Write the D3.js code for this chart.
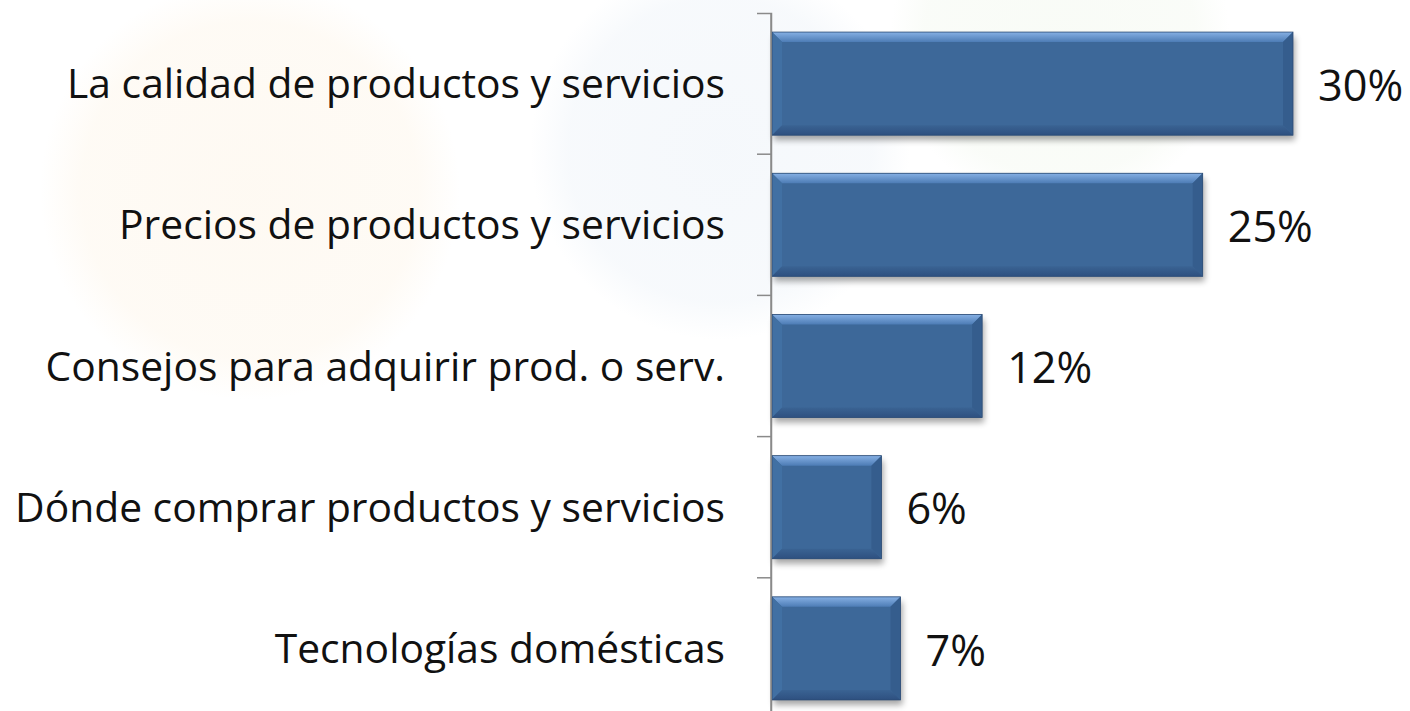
<!DOCTYPE html>
<html><head><meta charset="utf-8">
<script src="https://cdn.jsdelivr.net/npm/d3@7"></script>
<style>body{margin:0;background:#fff;overflow:hidden}</style>
</head><body>
<svg id="c" width="1410" height="711"></svg>
<script>
const categories = [
  "La calidad de productos y servicios",
  "Precios de productos y servicios",
  "Consejos para adquirir prod. o serv.",
  "Dónde comprar productos y servicios",
  "Tecnologías domésticas"
];
const values = [30, 24.8, 12.1, 6.3, 7.4];
const valueLabels = ["30%", "25%", "12%", "6%", "7%"];

const svg = d3.select("#c");
const FONT = "'Open Sans', 'Noto Sans', sans-serif";

// faint background watermark
const defs = svg.append("defs");
const wm = [
  {id:"wmO", cx:250, cy:190, r:210, c:"#fbe6c6", o:0.22},
  {id:"wmB", cx:720, cy:150, r:190, c:"#dce7f3", o:0.28},
  {id:"wmG", cx:1060, cy:40, r:170, c:"#e6f1dd", o:0.25}
];
wm.forEach(w => {
  const g = defs.append("radialGradient").attr("id", w.id);
  g.append("stop").attr("offset", "0%").attr("stop-color", w.c).attr("stop-opacity", w.o);
  g.append("stop").attr("offset", "80%").attr("stop-color", w.c).attr("stop-opacity", w.o * 0.8);
  g.append("stop").attr("offset", "100%").attr("stop-color", w.c).attr("stop-opacity", 0);
});
svg.append("g").selectAll("circle").data(wm).join("circle")
  .attr("cx", d => d.cx).attr("cy", d => d.cy).attr("r", d => d.r)
  .attr("fill", d => `url(#${d.id})`);

// gradients for bevel
const gTop = defs.append("linearGradient").attr("id", "bTop").attr("x1", 0).attr("y1", 0).attr("x2", 0).attr("y2", 1);
gTop.append("stop").attr("offset", "0%").attr("stop-color", "#86b0e4");
gTop.append("stop").attr("offset", "100%").attr("stop-color", "#4d7cb5");
const gBot = defs.append("linearGradient").attr("id", "bBot").attr("x1", 0).attr("y1", 0).attr("x2", 0).attr("y2", 1);
gBot.append("stop").attr("offset", "0%").attr("stop-color", "#3a6393");
gBot.append("stop").attr("offset", "100%").attr("stop-color", "#2e5080");
const filt = defs.append("filter").attr("id", "shadow").attr("x", "-10%").attr("y", "-20%").attr("width", "130%").attr("height", "150%");
filt.append("feGaussianBlur").attr("stdDeviation", 3);

const x = d3.scaleLinear().domain([0, 30]).range([772, 1293]);
const y = d3.scaleBand().domain(categories).range([13, 719]).paddingInner(0.27).paddingOuter(0.135);

const axisX = 771;
const axis = d3.axisLeft(y).tickSizeInner(0).tickSizeOuter(14).tickPadding(46);
const ag = svg.append("g").attr("transform", `translate(${axisX},0)`).call(axis);
ag.select(".domain").attr("stroke", "#8a8a8a").attr("stroke-width", 1.5);
ag.selectAll(".tick text")
  .attr("font-family", FONT).attr("font-size", 40).attr("fill", "#111").attr("dy", "0.36em");

// fit label font size to reference width
const ref = ag.selectAll(".tick text").filter(d => d === categories[0]).node();
const w0 = ref.getComputedTextLength();
const fs = 40 * 658 / w0;
ag.selectAll(".tick text").attr("font-size", fs);

// boundary ticks
const step = y.step();
const bounds = d3.range(1, categories.length).map(i => y.range()[0] + i * step);
svg.append("g").selectAll("line").data(bounds).join("line")
  .attr("x1", axisX - 14).attr("x2", axisX).attr("y1", d => d).attr("y2", d => d)
  .attr("stroke", "#8a8a8a").attr("stroke-width", 1.5);

const data = categories.map((c, i) => ({c, v: values[i], label: valueLabels[i]}));
const b = 10;
const bars = svg.append("g").selectAll("g").data(data).join("g");
bars.append("rect")
  .attr("x", x(0) + 2).attr("y", d => y(d.c) + 5)
  .attr("width", d => x(d.v) - x(0)).attr("height", y.bandwidth())
  .attr("fill", "#000").attr("opacity", 0.35).attr("filter", "url(#shadow)");
bars.append("rect")
  .attr("x", x(0)).attr("y", d => y(d.c))
  .attr("width", d => x(d.v) - x(0)).attr("height", y.bandwidth())
  .attr("fill", "#3d6899");
function poly(pts){ return "M" + pts.map(p => p.join(",")).join("L") + "Z"; }
bars.append("path").attr("fill", "url(#bTop)").attr("d", d => {
  const x0 = x(0), x1 = x(d.v), y0 = y(d.c);
  return poly([[x0,y0],[x1,y0],[x1-b,y0+b],[x0+b,y0+b]]);
});
bars.append("path").attr("fill", "#4170a3").attr("d", d => {
  const x0 = x(0), y0 = y(d.c), y1 = y0 + y.bandwidth();
  return poly([[x0,y0],[x0+b,y0+b],[x0+b,y1-b],[x0,y1]]);
});
bars.append("path").attr("fill", "#355d8d").attr("d", d => {
  const x1 = x(d.v), y0 = y(d.c), y1 = y0 + y.bandwidth();
  return poly([[x1,y0],[x1,y1],[x1-b,y1-b],[x1-b,y0+b]]);
});
bars.append("path").attr("fill", "url(#bBot)").attr("d", d => {
  const x0 = x(0), x1 = x(d.v), y1 = y(d.c) + y.bandwidth();
  return poly([[x0,y1],[x0+b,y1-b],[x1-b,y1-b],[x1,y1]]);
});
bars.append("rect")
  .attr("x", x(0)).attr("y", d => y(d.c))
  .attr("width", d => x(d.v) - x(0)).attr("height", y.bandwidth())
  .attr("fill", "none").attr("stroke", "#2d4d76").attr("stroke-width", 0.8);

bars.append("text")
  .attr("x", d => x(d.v) + 25)
  .attr("y", d => y(d.c) + y.bandwidth() / 2)
  .attr("dy", "0.40em")
  .attr("font-family", FONT).attr("font-size", fs * 1.06).attr("fill", "#111")
  .text(d => d.label);

// axis line above bars' left edge
svg.append("line").attr("x1", axisX).attr("x2", axisX).attr("y1", 13).attr("y2", 719)
  .attr("stroke", "#8a8a8a").attr("stroke-width", 1.5);
</script>
</body></html>
